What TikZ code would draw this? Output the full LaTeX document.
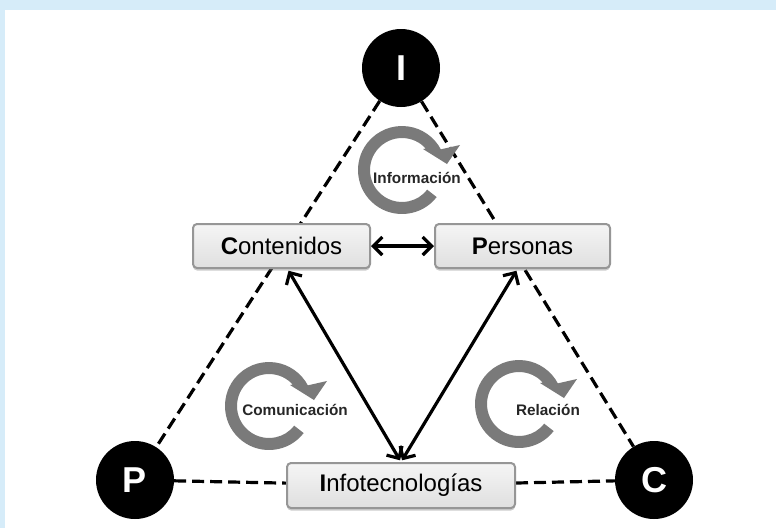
\documentclass[tikz,border=0pt]{standalone}
\usepackage{fontspec}
\setmainfont{Liberation Sans}
\usetikzlibrary{arrows.meta,calc,shadows}
\pgfdeclarelayer{back}\pgfdeclarelayer{mid}
\pgfsetlayers{back,mid,main}
\definecolor{bandblue}{RGB}{214,236,249}
\definecolor{cycgray}{RGB}{122,122,122}
\definecolor{boxedge}{RGB}{150,150,150}
\tikzset{
 blob/.style={circle, fill=black, minimum size=78pt, inner sep=0pt, text=white, font=\fontsize{36}{36}\selectfont\bfseries},
 box/.style={rectangle, rounded corners=4pt, draw=boxedge, line width=2pt, top color=gray!8, bottom color=gray!25, minimum height=44pt, inner sep=0pt, font=\fontsize{24}{24}\selectfont, drop shadow={shadow xshift=0pt, shadow yshift=-2.5pt, opacity=0.4}},
 dsh/.style={line width=3.2pt, dash pattern=on 12pt off 6pt},
 dbl/.style={line width=3.2pt, {Straight Barb[length=9pt,width=18pt]}-{Straight Barb[length=9pt,width=18pt]}},
 cyclabel/.style={font=\fontsize{15.3}{15.3}\selectfont\bfseries, text=black!85}
}
\newcommand\cycarrow[1]{%
 \fill[cycgray] ($(#1)+(38:44)$) arc[start angle=38,end angle=332,radius=44]
   -- ($(#1)+(58,-25)$) -- ($(#1)+(45,-6)$) -- ($(#1)+(21,-21)$)
   -- ($(#1)+(318:32)$) arc[start angle=318,end angle=38,radius=32] -- cycle;}
\begin{document}
\begin{tikzpicture}[x=1pt,y=-1pt]
\useasboundingbox (0,0) rectangle (776,528);
\begin{pgfonlayer}{back}
\fill[bandblue] (0,0) rectangle (776,528);
\fill[white] (5,10) rectangle (776,528);
\end{pgfonlayer}
% corner circles
\node[blob] (I) at (401,68) {I};
\node[blob] (P) at (135,480) {P};
\node[blob] (C) at (654,480) {C};
% boxes
\node[box, minimum width=177pt] (Cont) at (281.5,246) {\textbf{C}ontenidos};
\node[box, minimum width=175pt] (Pers) at (522.5,246) {\textbf{P}ersonas};
\node[box, minimum width=228pt, minimum height=45pt] (Info) at (401,485.5) {\textbf{I}nfotecnolog\'ias};
% cycle centres
\coordinate (cI) at (402,170);
\coordinate (cC) at (269,406);
\coordinate (cR) at (519,404);
\begin{pgfonlayer}{mid}
\draw[dsh] (I) -- (P);
\draw[dsh] (I) -- (C);
\draw[dsh] (P) -- (Info);
\draw[dsh] (Info) -- (C);
\cycarrow{cI}
\cycarrow{cC}
\cycarrow{cR}
\end{pgfonlayer}
\node[cyclabel] (tI) at (417,178) {Información};
\node[cyclabel] (tC) at (295,410) {Comunicación};
\node[cyclabel] (tR) at (548,410) {Relación};
% arrows
\draw[dbl] (Cont) -- (Pers);
\draw[dbl, shorten <=2pt, shorten >=2pt] (Info.north) -- ([xshift=6pt]Cont.south);
\draw[dbl, shorten <=2pt, shorten >=2pt] (Info.north) -- ([xshift=-5pt]Pers.south);
\end{tikzpicture}
\end{document}
